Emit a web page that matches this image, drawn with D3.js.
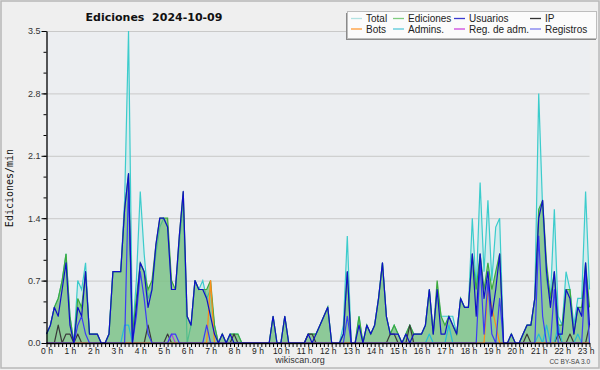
<!DOCTYPE html>
<html>
<head>
<meta charset="utf-8">
<script src="https://cdn.jsdelivr.net/npm/d3@7"></script>
<style>
  body { margin: 0; background: #efefef; }
  svg { display: block; }
</style>
</head>
<body>
<script>
// one value every 10 minutes from 0:00 to 23:10, in edits per minute
// (each line holds two hours = 12 values)
const total = [
  .1,.2,.4,.5,.7,1.0,  .3,0,.7,.6,.9,.1,
  .1,.1,0,0,.1,.8,  .8,.8,1.6,3.5,.1,.7,
  1.7,1.0,.5,.6,1.0,1.3,  1.4,1.3,.6,.6,1.1,1.6,
  0,.2,.7,.6,.7,.5,  .6,.2,0,.1,0,.1,
  .1,.1,0,0,0,0,  0,0,0,0,.3,0,
  0,.3,0,0,0,0,  0,.1,.1,.1,.2,.3,
  .4,0,0,0,.2,1.2,  0,0,.3,0,.2,.1,
  .2,.5,.9,.3,.1,.2,  .1,0,.1,.2,.1,.1,
  .1,.2,.6,.1,.6,.3,  .3,.3,.3,.1,.5,.4,
  .4,1.4,.6,1.8,.8,1.6,  .7,1.3,1.4,0,0,.1,
  0,0,.1,.2,.2,.5,  2.8,1.5,.7,.5,1.5,.3,
  .2,.8,.6,.2,.5,.5,  1.7,.6
]
const ediciones = [
  .1,.2,.4,.5,.7,1.0,  .3,0,.5,.4,.8,.1,
  .1,.1,0,0,.1,.8,  .8,.8,1.5,1.9,.1,.5,
  .9,.8,.6,.7,1.1,1.4,  1.4,1.4,.7,.6,1.2,1.7,
  .3,.2,.7,.6,.6,.6,  .7,.2,0,.1,0,.1,
  .1,.1,0,0,0,0,  0,0,0,0,.3,0,
  0,.3,0,0,0,0,  0,.1,.1,.1,.2,.3,
  .4,0,0,0,.1,.8,  0,0,.3,0,.2,.1,
  .2,.5,.9,.3,.1,.2,  .1,0,.1,.2,.1,.1,
  .1,.2,.6,.1,.7,.3,  .2,.3,.2,.1,.5,.4,
  .4,1.0,.6,1.0,.6,.9,  .6,.8,1.0,0,0,.1,
  0,0,.1,.2,.2,.5,  1.5,1.6,.9,.5,.8,.2,
  .2,.6,.6,.1,.4,.4,  .9,.4
]
const usuarios = [
  .1,.2,.4,.3,.6,.9,  .2,0,.4,.3,.8,.1,
  .1,.1,0,0,.1,.8,  .8,.8,1.5,1.9,0,.4,
  .9,.8,.4,.6,1.1,1.4,  1.4,1.3,.6,.6,1.2,1.7,
  .3,.2,.7,.6,.6,.5,  .3,.1,0,.1,0,.1,
  0,0,0,0,0,0,  0,0,0,0,.3,0,
  0,.3,0,0,0,0,  0,.1,0,.1,.2,.3,
  .4,0,0,0,.1,.8,  0,0,.2,0,.2,.1,
  .2,.5,.9,.3,.1,.1,  .1,0,.1,0,.1,.1,
  .1,.2,.6,.1,.6,.1,  .1,.3,.2,.1,.5,.4,
  .4,1.0,.3,1.0,.5,.8,  .3,.6,1.0,0,0,.1,
  0,0,.1,.2,.2,.5,  1.4,1.6,.8,.4,.8,.1,
  .1,.6,.5,.1,.4,.3,  .9,.2
]
const ip = [
  0,0,0,.2,0,.1,  .1,0,.1,0,0,0,
  0,0,0,0,0,0,  0,0,0,0,0,0,
  0,0,.2,0,0,0,  0,.1,0,0,0,0,
  0,0,0,0,0,0,  0,0,0,0,0,0,
  .1,0,0,0,0,0,  0,0,0,0,0,0,
  0,0,0,0,0,0,  0,.1,.1,0,0,0,
  0,0,0,0,0,0,  0,0,0,0,0,0,
  0,0,0,0,.1,.1,  0,0,0,.2,0,0,
  0,0,0,0,0,0,  0,0,0,0,0,0,
  0,0,0,0,0,0,  0,0,0,0,0,0,
  0,0,0,.1,0,0,  0,0,0,0,0,.1,
  0,0,.1,0,0,0,  0,.2
]
const bots = [
  0,0,0,0,0,0,  0,0,0,0,0,0,
  0,0,0,0,0,0,  0,0,0,0,0,0,
  0,0,0,0,0,0,  0,0,0,0,0,0,
  0,0,0,0,0,0,  .7,0,0,0,0,0,
  0,0,0,0,0,0,  0,0,0,0,0,0,
  0,0,0,0,0,0,  0,0,0,0,0,0,
  0,0,0,0,0,0,  0,0,0,0,0,0,
  0,0,0,0,0,0,  0,0,0,0,0,0,
  0,0,0,0,0,0,  0,0,0,0,0,0,
  0,0,0,0,0,.6,  .4,.2,0,0,0,0,
  0,0,0,0,0,0,  0,0,0,0,0,0,
  0,0,0,0,0,0,  0,0
]
const admins = [
  0,0,0,0,0,0,  0,0,0,0,0,0,
  0,0,0,0,0,0,  0,0,.2,.2,0,0,
  0,0,0,0,0,0,  0,0,0,0,0,0,
  0,0,0,0,0,0,  0,0,0,0,0,0,
  0,0,0,0,0,0,  0,0,0,0,0,0,
  0,0,0,0,0,0,  0,0,0,0,0,0,
  0,0,0,0,0,0,  0,0,0,0,0,0,
  0,0,0,0,0,0,  0,0,0,0,0,0,
  0,0,.1,0,0,0,  0,.2,0,0,0,0,
  0,0,0,0,0,0,  0,0,0,0,0,0,
  0,0,0,0,0,0,  .1,0,.2,0,0,.2,
  0,0,0,0,.1,0,  0,0
]
const regAdm = [
  0,0,0,0,0,0,  0,0,0,0,0,0,
  0,0,0,0,0,0,  0,0,0,0,0,0,
  0,0,0,0,0,0,  0,0,.1,0,0,0,
  0,0,0,0,0,0,  0,0,0,0,0,0,
  0,0,0,0,0,0,  0,0,0,0,0,0,
  0,0,0,0,0,0,  0,0,0,0,0,0,
  0,0,0,0,0,0,  0,0,0,0,0,0,
  0,0,0,0,0,0,  0,0,0,0,0,0,
  0,0,0,0,0,0,  0,0,0,0,0,0,
  0,0,0,0,0,0,  0,0,0,0,0,0,
  0,0,0,0,0,0,  0,0,0,0,0,0,
  0,0,0,0,0,0,  0,0
]
const registros = [
  0,0,0,0,0,0,  0,0,.2,.3,.1,0,
  0,0,0,0,0,0,  0,0,0,1.8,0,.3,
  .8,.5,.1,0,0,0,  0,0,.1,.1,0,0,
  0,0,0,0,0,.2,  0,0,0,0,0,0,
  0,0,0,0,0,0,  0,0,0,0,0,0,
  0,0,0,0,0,0,  0,0,0,0,0,0,
  0,0,0,0,0,.3,  0,0,0,0,0,0,
  0,0,0,0,0,0,  0,0,0,0,0,0,
  0,0,0,0,0,0,  0,0,0,0,0,0,
  0,0,0,.9,.1,.7,  .1,0,.5,0,0,0,
  0,0,0,0,0,0,  1.2,.3,0,0,.6,0,
  0,0,0,0,0,0,  .8,0
]

const hourLabels = d3.range(24).map(h => h + ' h')
const yTicks = [0, 0.7, 1.4, 2.1, 2.8, 3.5]
const yMinor = d3.range(16).map(i => i * 0.7 / 3)

const title = 'Ediciones  2024-10-09'
const yTitle = 'Ediciones/min'

const legendItems = [
  {name: 'Total', color: '#b2e2e2'},
  {name: 'Ediciones', color: '#7fcc7f'},
  {name: 'Usuarios', color: '#3a3ad0'},
  {name: 'IP', color: '#333333'},
  {name: 'Bots', color: '#ff9933'},
  {name: 'Admins.', color: '#55c8d8'},
  {name: 'Reg. de adm.', color: '#cc44dd'},
  {name: 'Registros', color: '#7a7aee'}
]

const width = 600, height = 370
const plotLeft = 46.5, plotRight = 589.5, plotTop = 31, plotBottom = 343

const svg = d3.select('body').append('svg')
  .attr('width', width)
  .attr('height', height)
  .style('font-family', 'Liberation Sans, Arial, sans-serif')

// page background + frame
svg.append('rect')
  .attr('x', 1).attr('y', 1).attr('width', width - 2).attr('height', height - 3)
  .attr('fill', '#efefef').attr('stroke', '#b8b8b8').attr('stroke-width', 1.5)

svg.append('rect')
  .attr('x', plotLeft).attr('y', plotTop).attr('width', plotRight - plotLeft).attr('height', plotBottom - plotTop)
  .attr('fill', '#eceef1')

const x = d3.scaleLinear().domain([0, total.length - 1]).range([plotLeft, plotRight])
const y = d3.scaleLinear().domain([0, 3.5]).range([plotBottom, plotTop])

// gridlines
svg.append('g')
  .attr('transform', `translate(${plotLeft},0)`)
  .call(d3.axisLeft(y).tickValues(yTicks.slice(1)).tickSize(-(plotRight - plotLeft)).tickFormat(''))
  .call(g => g.select('.domain').remove())
  .call(g => g.selectAll('line').attr('stroke', '#c9c9c9'))

const area = d3.area()
  .x((d, i) => x(i))
  .y0(y(0))
  .y1(d => y(d))

const line = d3.line()
  .x((d, i) => x(i))
  .y(d => y(d))

// Total
svg.append('path').datum(total)
  .attr('d', area)
  .attr('fill', '#bfeaea').attr('fill-opacity', 0.55)
svg.append('path').datum(total)
  .attr('d', line)
  .attr('fill', 'none').attr('stroke', '#3ccccc').attr('stroke-width', 1.2)

// Ediciones
svg.append('path').datum(ediciones)
  .attr('d', area)
  .attr('fill', '#5fb35f').attr('fill-opacity', 0.6)
svg.append('path').datum(ediciones)
  .attr('d', line)
  .attr('fill', 'none').attr('stroke', '#3daa3d').attr('stroke-width', 1.2)

const lines = [
  {data: ip, color: '#3a3a3a'},
  {data: admins, color: '#28bcd4'},
  {data: regAdm, color: '#b040e0'},
  {data: bots, color: '#ff8c1a'},
  {data: registros, color: '#3c3cf5'},
  {data: usuarios, color: '#1010c8'}
]
for (const s of lines) {
  svg.append('path').datum(s.data)
    .attr('d', line)
    .attr('fill', 'none')
    .attr('stroke', s.color)
    .attr('stroke-width', 1.2)
    .attr('stroke-linejoin', 'round')
}

// y axis
svg.append('g')
  .attr('transform', `translate(${plotLeft},0)`)
  .call(d3.axisLeft(y).tickValues(yMinor).tickSize(3).tickSizeOuter(0).tickFormat(''))
  .call(g => g.select('.domain').remove())
const yAxis = svg.append('g')
  .attr('transform', `translate(${plotLeft},0)`)
  .call(d3.axisLeft(y).tickValues(yTicks).tickSize(5).tickSizeOuter(0).tickPadding(1).tickFormat(d3.format('.1f')))
yAxis.selectAll('text')
  .attr('font-size', 9).attr('fill', '#333').style('font-family', 'Liberation Sans, Arial, sans-serif')
yAxis.select('.domain').attr('stroke-width', 1.3)

// x axis
const xAxis = svg.append('g')
  .attr('transform', `translate(0,${plotBottom})`)
  .call(d3.axisBottom(x)
    .tickValues(d3.range(0, total.length))
    .tickSize(4).tickSizeOuter(0).tickPadding(1)
    .tickFormat(d => d % 6 === 0 ? hourLabels[d / 6] : ''))
xAxis.selectAll('text')
  .attr('font-size', 8.5).attr('fill', '#222').style('font-family', 'Liberation Sans, Arial, sans-serif')
xAxis.select('.domain').attr('stroke-width', 1.6)

// title
svg.append('text')
  .attr('x', 154).attr('y', 21)
  .attr('text-anchor', 'middle')
  .style('white-space', 'pre')
  .style('font-family', 'DejaVu Sans, sans-serif')
  .attr('font-weight', 'bold').attr('font-size', 11)
  .attr('fill', '#111')
  .text(title)

svg.append('text')
  .attr('transform', 'translate(13,188) rotate(-90)')
  .attr('text-anchor', 'middle')
  .style('font-family', 'DejaVu Sans Mono, monospace')
  .attr('font-size', 10).attr('fill', '#111')
  .text(yTitle)

svg.append('text')
  .attr('x', 300).attr('y', 363)
  .attr('text-anchor', 'middle')
  .attr('font-size', 9).attr('fill', '#333')
  .text('wikiscan.org')

svg.append('text')
  .attr('x', 590).attr('y', 364)
  .attr('text-anchor', 'end')
  .attr('font-size', 6.5).attr('fill', '#444')
  .text('CC BY-SA 3.0')

// legend
const lg = svg.append('g')
lg.append('rect')
  .attr('x', 346).attr('y', 13).attr('width', 250).attr('height', 27)
  .attr('fill', '#8a8a8a')
lg.append('rect')
  .attr('x', 347.5).attr('y', 11.5).attr('width', 249).attr('height', 27)
  .attr('fill', '#fbfbfb').attr('stroke', '#bdbdbd')
const colX = [351, 393, 454, 530]
legendItems.forEach((d, i) => {
  const cx = colX[i % 4]
  const cy = i < 4 ? 18.5 : 29
  lg.append('line')
    .attr('x1', cx).attr('x2', cx + 11)
    .attr('y1', cy).attr('y2', cy)
    .attr('stroke', d.color).attr('stroke-width', 1.3)
  lg.append('text')
    .attr('x', cx + 15).attr('y', cy + 3.5)
    .attr('font-size', 10).attr('fill', '#222')
    .text(d.name)
})
</script>
</body>
</html>
